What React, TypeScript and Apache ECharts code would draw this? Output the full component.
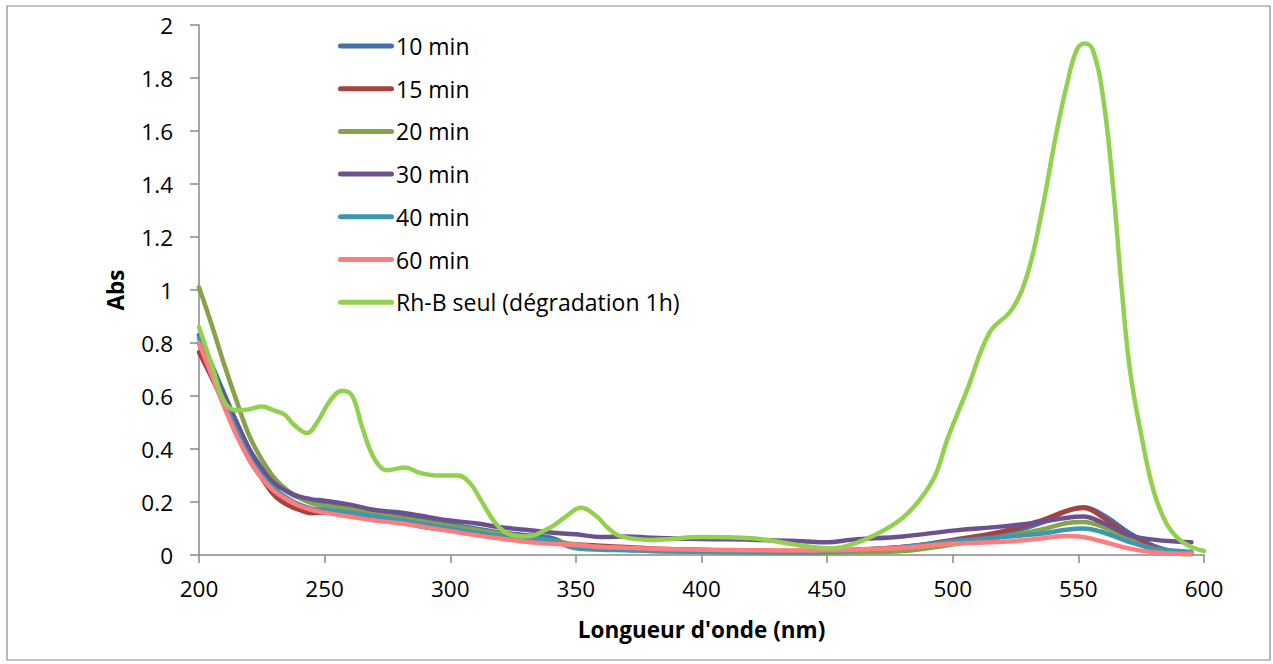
import React, { useEffect, useRef } from "react";
import * as echarts from "echarts";

// Wavelength grid (nm) shared by the timed photocatalysis spectra
const wavelengths = [
  200, 205, 210, 215, 220, 225, 230, 235, 240, 245, 250, 260, 270, 280, 290, 300,
  310, 320, 330, 340, 350, 360, 370, 380, 400, 420, 440, 450, 460, 480, 500, 520,
  535, 545, 552, 560, 570, 580, 590, 595,
];

const abs10 = [
  0.83, 0.72, 0.61, 0.5, 0.4, 0.33, 0.28, 0.24, 0.215, 0.2, 0.195, 0.185, 0.16, 0.145, 0.13, 0.115,
  0.1, 0.085, 0.075, 0.065, 0.03, 0.025, 0.02, 0.02, 0.015, 0.012, 0.01, 0.01, 0.015, 0.03, 0.05, 0.08,
  0.12, 0.165, 0.18, 0.15, 0.085, 0.035, 0.01, 0.005,
];
const abs15 = [
  0.765, 0.67, 0.57, 0.46, 0.36, 0.29, 0.225, 0.19, 0.17, 0.158, 0.16, 0.155, 0.14, 0.125, 0.105, 0.095,
  0.08, 0.065, 0.055, 0.045, 0.04, 0.035, 0.03, 0.025, 0.02, 0.015, 0.015, 0.015, 0.02, 0.03, 0.057, 0.09,
  0.13, 0.165, 0.177, 0.14, 0.075, 0.03, 0.008, 0.005,
];
const abs20 = [
  1.01, 0.87, 0.72, 0.58, 0.45, 0.36, 0.29, 0.245, 0.215, 0.195, 0.185, 0.175, 0.155, 0.14, 0.125, 0.11,
  0.095, 0.08, 0.065, 0.055, 0.04, 0.03, 0.02, 0.015, 0.012, 0.01, 0.008, 0.008, 0.01, 0.015, 0.04, 0.07,
  0.095, 0.12, 0.125, 0.105, 0.06, 0.02, 0.005, 0.003,
];
const abs30 = [
  0.8, 0.7, 0.6, 0.5, 0.4, 0.32, 0.27, 0.24, 0.22, 0.21, 0.205, 0.19, 0.17, 0.16, 0.145, 0.13,
  0.12, 0.105, 0.095, 0.085, 0.078, 0.068, 0.07, 0.065, 0.06, 0.058, 0.052, 0.048, 0.058, 0.07, 0.092, 0.108,
  0.125, 0.14, 0.145, 0.12, 0.075, 0.058, 0.05, 0.048,
];
const abs40 = [
  0.82, 0.7, 0.58, 0.47, 0.37, 0.3, 0.25, 0.215, 0.19, 0.175, 0.17, 0.16, 0.145, 0.13, 0.115, 0.1,
  0.085, 0.07, 0.06, 0.055, 0.025, 0.02, 0.018, 0.015, 0.012, 0.01, 0.01, 0.012, 0.018, 0.03, 0.052, 0.068,
  0.08, 0.095, 0.1, 0.085, 0.05, 0.025, 0.015, 0.012,
];
const abs60 = [
  0.8, 0.68, 0.56, 0.45, 0.36, 0.29, 0.24, 0.21, 0.185, 0.17, 0.16, 0.145, 0.13, 0.12, 0.105, 0.09,
  0.075, 0.062, 0.05, 0.042, 0.038, 0.03, 0.027, 0.024, 0.02, 0.018, 0.017, 0.018, 0.02, 0.027, 0.042, 0.05,
  0.062, 0.072, 0.068, 0.05, 0.025, 0.01, 0.005, 0.005,
];

// Rhodamine B alone, sampled on its own grid
const rhbWavelengths = [
  200, 205, 210, 215, 220, 225, 230, 234, 238, 243, 247, 252, 257, 261, 265, 270,
  275, 282, 288, 295, 303, 308, 312, 318, 323, 330, 340, 346, 352, 358, 363, 368, 380,
  400, 420, 440, 452, 460, 470, 480, 487, 493, 498, 505.6, 514.7, 523.4, 529.4,
  534.7, 541.4, 545.3, 549.3, 552.6, 555.8, 559.8, 563.8, 567.2, 570.5, 575.3, 580,
  585, 590, 595, 600,
];
const rhbAbs = [
  0.86, 0.72, 0.58, 0.545, 0.55, 0.56, 0.545, 0.53, 0.49, 0.46, 0.5, 0.58, 0.62, 0.6, 0.48, 0.36,
  0.32, 0.33, 0.31, 0.3, 0.3, 0.27, 0.21, 0.12, 0.08, 0.07, 0.105, 0.145, 0.178, 0.148, 0.1, 0.07, 0.057,
  0.068, 0.063, 0.035, 0.025, 0.04, 0.08, 0.14, 0.21, 0.3, 0.44, 0.62, 0.84, 0.925, 1.05,
  1.26, 1.6, 1.77, 1.905, 1.93, 1.905, 1.73, 1.39, 1.01, 0.7, 0.44, 0.24,
  0.12, 0.06, 0.03, 0.015,
];

const seriesNames = [
  "10 min",
  "15 min",
  "20 min",
  "30 min",
  "40 min",
  "60 min",
  "Rh-B seul (dégradation 1h)",
];
const seriesColors = ["#4470A8", "#A8413E", "#86A24A", "#6C5191", "#3D97B0", "#FF7C80", "#92D050"];

const xTicks = { min: 200, max: 600, interval: 50 };
const yTicks = { min: 0, max: 2, interval: 0.2 };

const FONT = "Open Sans";
const AXIS_FONT_SIZE = 22.5;
const LEGEND_FONT_SIZE = 23;

export default function App() {
  const ref = useRef<HTMLDivElement>(null);

  useEffect(() => {
    if (!ref.current) return;
    const chart = echarts.init(ref.current, null, { renderer: "svg" });

    const timed = [abs10, abs15, abs20, abs30, abs40, abs60];
    const seriesData = [
      ...timed.map((vals) => wavelengths.map((w, i) => [w, vals[i]])),
      rhbWavelengths.map((w, i) => [w, rhbAbs[i]]),
    ];

    const axisLineStyle = { color: "#898989", width: 1.5 };

    chart.setOption({
      animation: false,
      textStyle: { fontFamily: FONT },
      color: seriesColors,
      grid: { left: 199, right: 69, top: 25, bottom: 109, containLabel: false },
      graphic: [
        {
          type: "rect",
          shape: { x: 7, y: 6, width: 1263, height: 654 },
          style: { fill: "none", stroke: "#898989", lineWidth: 1.2 },
          silent: true,
        },
      ],
      legend: {
        orient: "vertical",
        left: 338,
        top: 34.5,
        padding: 0,
        itemWidth: 56,
        itemHeight: 5,
        itemGap: 19.7,
        icon: "path://M2.5,0 L53.5,0 A2.5,2.5 0 0 1 53.5,5 L2.5,5 A2.5,2.5 0 0 1 2.5,0 Z",
        textStyle: { fontFamily: FONT, fontSize: LEGEND_FONT_SIZE, color: "#000", padding: [0, 0, 0, -3] },
        data: seriesNames,
      },
      xAxis: {
        type: "value",
        min: xTicks.min,
        max: xTicks.max,
        interval: xTicks.interval,
        name: "Longueur d'onde (nm)",
        nameLocation: "middle",
        nameGap: 63,
        nameTextStyle: { fontFamily: FONT, fontSize: AXIS_FONT_SIZE, fontWeight: "bold", color: "#000" },
        axisLine: { lineStyle: axisLineStyle },
        axisTick: { show: true, length: 8, lineStyle: axisLineStyle },
        axisLabel: { fontFamily: FONT, fontSize: AXIS_FONT_SIZE, color: "#000", margin: 22 },
        splitLine: { show: false },
      },
      yAxis: {
        type: "value",
        min: yTicks.min,
        max: yTicks.max,
        interval: yTicks.interval,
        name: "Abs",
        nameLocation: "middle",
        nameRotate: 90,
        nameGap: 72,
        nameTextStyle: { fontFamily: FONT, fontSize: AXIS_FONT_SIZE, fontWeight: "bold", color: "#000" },
        axisLine: { show: true, lineStyle: axisLineStyle },
        axisTick: { show: true, length: 9, lineStyle: axisLineStyle },
        axisLabel: { fontFamily: FONT, fontSize: AXIS_FONT_SIZE, color: "#000", margin: 26 },
        splitLine: { show: false },
      },
      series: seriesNames.map((name, k) => ({
        name,
        type: "line",
        data: seriesData[k],
        smooth: 0.4,
        showSymbol: false,
        symbol: "none",
        lineStyle: { width: 4.5, color: seriesColors[k], cap: "round", join: "round" },
        itemStyle: { color: seriesColors[k] },
        emphasis: { disabled: true },
      })),
    });

    return () => chart.dispose();
  }, []);

  return (
    <div
      ref={ref}
      style={{ position: "absolute", left: 0, top: 0, width: 1273, height: 664, background: "#fff" }}
    />
  );
}
